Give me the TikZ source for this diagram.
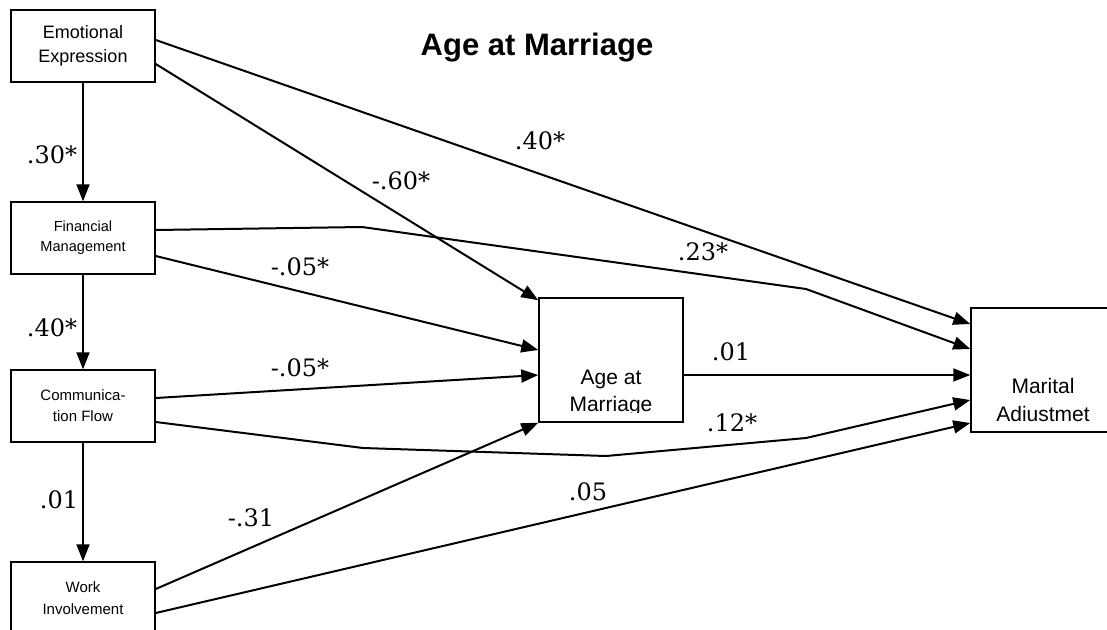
\documentclass[tikz,border=0pt]{standalone}
\usepackage{fontspec}
\setsansfont{Liberation Sans}
\newfontfamily\coeffont{DejaVu Serif}
\usetikzlibrary{arrows.meta}

\tikzset{
  varbox/.style={draw, line width=1.5pt, minimum width=144pt, minimum height=72pt, inner sep=0pt, align=center},
  arr/.style={line width=2pt, -{Triangle[length=17pt,width=13pt]}},
  coef/.style={font=\coeffont\fontsize{24}{24}\selectfont, inner sep=0pt}
}

\begin{document}
\begin{tikzpicture}[x=1pt,y=-1pt]
    \clip (0,0) rectangle (1107,629);
    \node[font=\sffamily\bfseries\fontsize{31}{31}\selectfont] (title) at (537,48) {Age at Marriage};
    % predictors
    \node[varbox, font=\sffamily\fontsize{18}{24}\selectfont] (ee) at (83,46) {Emotional\\Expression};
    \node[varbox, font=\sffamily\fontsize{14.6}{20}\selectfont] (fm) at (83,238) {Financial\\Management};
    \node[varbox, font=\sffamily\fontsize{15}{21}\selectfont] (cf) at (83,406) {Communica-\\tion Flow};
    \node[varbox, font=\sffamily\fontsize{15}{22}\selectfont] (wi) at (83,598) {Work\\Involvement};
    % mediator and outcome
    \node[varbox, minimum height=124pt] (am) at (611,360) {};
    \node[varbox, minimum height=124pt] (ma) at (1043,370) {};
    \begin{scope}
    \clip (am.north west) rectangle (683,412);
    \node[font=\sffamily\fontsize{21}{27}\selectfont, align=center] (amtext) at (611,393) {Age at\\Marriage};
    \end{scope}
    \node[font=\sffamily\fontsize{21}{28}\selectfont, align=center] (matext) at (1043,400) {Marital\\Adiustmet};
    % bends
    \coordinate (fmbend1) at (362,227);
    \coordinate (fmbend2) at (806,289);
    \coordinate (cfbend1) at (363,448);
    \coordinate (cfbend2) at (606,456);
    \coordinate (cfbend3) at (806,438);
    % paths
    \draw[arr] (ee.south) -- (fm.north);
    \draw[arr] (fm.south) -- (cf.north);
    \draw[arr] (cf.south) -- (wi.north);
    \draw[arr] ([yshift=6pt]ee.east) -- ([yshift=46pt]ma.west);
    \draw[arr] ([yshift=-18pt]ee.east) -- ([yshift=-3pt]am.north west);
    \draw[arr] ([yshift=8pt]fm.east) -- (fmbend1) -- (fmbend2) -- ([yshift=21pt]ma.west);
    \draw[arr] ([yshift=-18pt]fm.east) -- ([yshift=10pt]am.west);
    \draw[arr] ([yshift=8pt]cf.east) -- ([yshift=-15pt]am.west);
    \draw[arr] ([yshift=-16pt]cf.east) -- (cfbend1) -- (cfbend2) -- (cfbend3) -- ([yshift=-30pt]ma.west);
    \draw[arr] ([yshift=-15pt]am.east) -- ([yshift=-5pt]ma.west);
    \draw[arr] ([yshift=9pt]wi.east) -- (am.south west);
    \draw[arr] ([yshift=-15pt]wi.east) -- ([yshift=-53pt]ma.west);
    % coefficients
    \node[coef] (c1) at (52,155) {.30*};
    \node[coef] (c2) at (52,328) {.40*};
    \node[coef] (c3) at (59,500) {.01};
    \node[coef] (c4) at (251,518) {-.31};
    \node[coef] (c5) at (540,141) {.40*};
    \node[coef] (c6) at (401,181) {-.60*};
    \node[coef] (c7) at (703,252) {.23*};
    \node[coef] (c8) at (300,267) {-.05*};
    \node[coef] (c9) at (300,368) {-.05*};
    \node[coef] (c10) at (732,423) {.12*};
    \node[coef] (c11) at (731,352) {.01};
    \node[coef] (c12) at (588,492) {.05};
\end{tikzpicture}
\end{document}
